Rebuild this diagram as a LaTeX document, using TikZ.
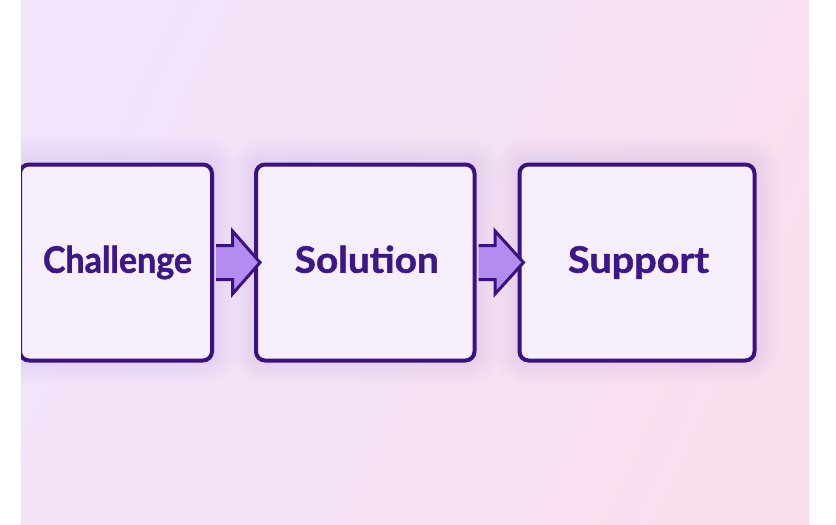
\documentclass[tikz,border=0pt]{standalone}
\usepackage{fontspec}
\usepackage{graphicx}
\setmainfont{Lato}[BoldFeatures={FakeBold=1.2}]
\usetikzlibrary{calc}
\definecolor{bgL}{HTML}{F1E4FB}
\definecolor{bgR}{HTML}{F9DFEE}
\definecolor{edge}{HTML}{3B1080}
\definecolor{txt}{HTML}{3D1687}
\definecolor{boxfill}{HTML}{F7EFFC}
\definecolor{arrowfill}{HTML}{B48CF0}
\definecolor{glow}{HTML}{A57CDA}
\tikzset{
  stagebox/.style={rectangle, draw=edge, line width=4pt, fill=boxfill, rounded corners=9pt,
    minimum height=196pt, inner sep=0pt, text=txt, text height=26.5pt, text depth=6pt,
    font=\bfseries\fontsize{36.5}{40}\selectfont},
  flowarrow/.style={fill=arrowfill, draw=edge, line width=3pt, line join=miter},
  glowring/.style={fill=glow, opacity=0.018}
}
\newcommand{\fitword}[2]{\hspace*{3pt}\resizebox{#1}{\height}{#2}}
\newcommand{\glowaround}[1]{%
  \foreach \r in {2,5,8,11,14,17,20,23}{%
    \fill[glowring, rounded corners=9pt+\r pt]
      ($(#1.south west)+(-\r pt,-\r pt+2pt)$) rectangle ($(#1.north east)+(\r pt,\r pt+2pt)$);
  }%
}
\begin{document}
\begin{tikzpicture}[x=1pt,y=-1pt]
\useasboundingbox (0,0) rectangle (836,525);
\begin{scope}
  \clip (21,0.5) rectangle (809,524.5);
  \shade[shading=axis, top color=bgL, bottom color=bgR, shading angle=65] (21,0) rectangle (809,525);
  \coordinate (p1) at (116,262.5);
  \coordinate (p2) at (365.25,262.5);
  \coordinate (p3) at (637,262.5);
  \path (p1) node[stagebox, minimum width=192pt, draw=none, fill=none] (g1) {};
  \path (p2) node[stagebox, minimum width=218.5pt, draw=none, fill=none] (g2) {};
  \path (p3) node[stagebox, minimum width=235pt, draw=none, fill=none] (g3) {};
  \glowaround{g1}
  \glowaround{g2}
  \glowaround{g3}
  \node[stagebox, minimum width=192pt] (c1) at (p1) {\fitword{149pt}{Challenge}};
  \node[stagebox, minimum width=218.5pt] (c2) at (p2) {\fitword{144pt}{Solution}};
  \node[stagebox, minimum width=235pt] (c3) at (p3) {\fitword{141pt}{Support}};
  \filldraw[flowarrow] ($(c1.east)+(2,-17)$) -- ($(c1.east)+(18.5,-17)$) -- ($(c1.east)+(18.5,-31.5)$)
    -- ($(c2.west)+(6,0)$) -- ($(c1.east)+(18.5,31.5)$) -- ($(c1.east)+(18.5,17)$) -- ($(c1.east)+(2,17)$);
  \filldraw[flowarrow] ($(c2.east)+(2,-17)$) -- ($(c2.east)+(18.5,-17)$) -- ($(c2.east)+(18.5,-31.5)$)
    -- ($(c3.west)+(6,0)$) -- ($(c2.east)+(18.5,31.5)$) -- ($(c2.east)+(18.5,17)$) -- ($(c2.east)+(2,17)$);
\end{scope}
\end{tikzpicture}
\end{document}
